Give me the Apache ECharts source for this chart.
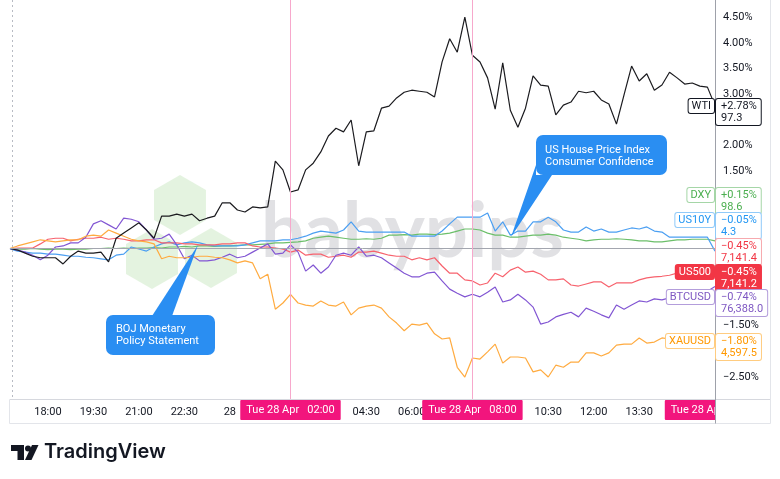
<!DOCTYPE html>
<html>
<head>
<meta charset="utf-8">
<script src="https://cdn.jsdelivr.net/npm/echarts@6/dist/echarts.min.js"></script>
<style>
  html, body { margin: 0; padding: 0; background: #fff; }
  #chart { width: 780px; height: 479px; }
</style>
</head>
<body>
<div id="chart"></div>
<script>
// 15-minute bars, Mon 27 Apr 16:45 -> Tue 28 Apr 16:00
const times = [
  '16:45','17:00','17:15','17:30','17:45','18:00','18:15','18:30','18:45','19:00',
  '19:15','19:30','19:45','20:00','20:15','20:30','20:45','21:00','21:15','21:30',
  '21:45','22:00','22:15','22:30','22:45','23:00','23:15','23:30','23:45','00:00',
  '00:15','00:30','00:45','01:00','01:15','01:30','01:45','02:00','02:15','02:30',
  '02:45','03:00','03:15','03:30','03:45','04:00','04:15','04:30','04:45','05:00',
  '05:15','05:30','05:45','06:00','06:15','06:30','06:45','07:00','07:15','07:30',
  '07:45','08:00','08:15','08:30','08:45','09:00','09:15','09:30','09:45','10:00',
  '10:15','10:30','10:45','11:00','11:15','11:30','11:45','12:00','12:15','12:30',
  '12:45','13:00','13:15','13:30','13:45','14:00','14:15','14:30','14:45','15:00',
  '15:15','15:30','15:45','16:00'
];
const xTickLabels = ['18:00','19:30','21:00','22:30','00:00','04:30','06:00','10:30','12:00','13:30'];
const eventTimes = ['02:00','08:00','16:00'];
const eventLabels = ['Tue 28 Apr   02:00','Tue 28 Apr   08:00','Tue 28 Apr   16:00'];
const yTickValues = [4.5, 4, 3.5, 3, 2, 1.5, -1.5, -2.5];

// % change since start
const wti = [
  0,-0.03,-0.09,-0.15,-0.18,-0.18,-0.18,-0.30,-0.15,-0.05,
  -0.09,-0.09,-0.07,-0.26,0.20,0.30,0.40,0.50,0.36,0.20,
  0.63,0.63,0.67,0.63,0.67,0.54,0.59,0.63,0.89,0.89,
  0.75,0.71,0.81,0.79,0.81,1.70,1.53,1.10,1.14,1.53,
  1.66,1.88,2.19,2.34,2.27,2.50,1.61,2.27,2.29,2.73,
  2.77,2.93,3.04,3.08,3.06,3.04,2.95,3.63,4.08,3.82,
  4.50,3.76,3.63,3.32,2.71,3.61,2.69,2.36,2.73,3.36,
  3.18,3.16,2.60,2.79,2.85,3.06,3.03,3.06,2.89,2.81,
  2.42,2.99,3.55,3.26,3.40,3.08,3.18,3.43,3.32,3.20,
  3.22,3.16,3.14,2.78
];
const dxy = [
  0,-0.01,-0.01,0,-0.01,-0.02,-0.01,-0.01,-0.02,-0.01,
  -0.01,0,0,0.01,0,0.01,0,0.01,0.01,0.02,
  0.01,0.03,0.03,0.04,0.03,0.05,0.05,0.04,0.05,0.05,
  0.06,0.07,0.07,0.08,0.09,0.11,0.11,0.12,0.13,0.15,
  0.20,0.22,0.24,0.22,0.20,0.18,0.18,0.19,0.18,0.20,
  0.26,0.26,0.27,0.26,0.28,0.28,0.27,0.28,0.30,0.34,
  0.38,0.38,0.36,0.30,0.26,0.26,0.22,0.22,0.24,0.26,
  0.26,0.28,0.26,0.22,0.20,0.18,0.15,0.17,0.18,0.18,
  0.19,0.18,0.17,0.15,0.15,0.13,0.13,0.15,0.17,0.17,
  0.18,0.18,0.18,0.15
];
const us10y = [
  -0.01,-0.05,-0.07,-0.09,-0.09,-0.11,-0.11,-0.13,-0.15,-0.15,
  -0.17,-0.18,-0.20,-0.22,-0.13,-0.11,0.03,-0.01,-0.05,0.03,
  0.09,0.13,0.07,0.11,0.13,0.11,0.07,0.05,0.05,0.05,
  0.05,0.07,0.11,0.15,0.15,0.15,0.17,0.17,0.20,0.24,
  0.30,0.34,0.32,0.30,0.36,0.52,0.34,0.32,0.32,0.32,
  0.32,0.32,0.32,0.24,0.24,0.24,0.24,0.34,0.48,0.61,
  0.61,0.61,0.61,0.69,0.34,0.52,0.26,0.34,0.34,0.52,
  0.52,0.61,0.52,0.36,0.32,0.32,0.42,0.34,0.38,0.32,
  0.32,0.36,0.40,0.38,0.42,0.34,0.32,0.22,0.22,0.22,
  0.22,0.22,0.22,-0.05
];
const us500 = [
  0,0.01,0.01,0.01,0.09,0.18,0.20,0.20,0.15,0.18,
  0.20,0.20,0.22,0.18,0.20,0.18,0.15,0.15,0.17,0.17,
  0.11,0.11,0.11,0.09,0.09,0.07,0.07,0.07,0.09,0.09,
  0.11,0.11,0.05,0.03,0.03,0.01,-0.01,-0.07,-0.03,-0.13,
  -0.11,-0.11,-0.17,-0.15,-0.13,-0.17,-0.07,-0.07,-0.05,-0.09,
  -0.13,-0.15,-0.15,-0.22,-0.18,-0.22,-0.18,-0.34,-0.48,-0.48,
  -0.61,-0.63,-0.71,-0.67,-0.48,-0.55,-0.42,-0.36,-0.46,-0.44,
  -0.50,-0.61,-0.61,-0.59,-0.71,-0.73,-0.69,-0.65,-0.65,-0.75,
  -0.67,-0.67,-0.67,-0.61,-0.57,-0.55,-0.54,-0.52,-0.48,-0.48,
  -0.48,-0.46,-0.46,-0.45
];
const btcusd = [
  0,-0.03,-0.07,-0.13,-0.22,-0.13,0.03,0.05,0.11,0.11,
  0.22,0.48,0.54,0.46,0.38,0.59,0.57,0.52,0.36,0.18,
  0.20,0.28,0.07,-0.20,-0.13,-0.24,-0.24,-0.22,-0.17,-0.11,
  -0.18,-0.15,-0.07,0.01,0.09,-0.11,-0.09,0.07,-0.07,-0.44,
  -0.32,-0.48,-0.36,-0.13,-0.09,-0.13,0.03,-0.15,-0.13,-0.18,
  -0.28,-0.38,-0.48,-0.55,-0.55,-0.48,-0.46,-0.63,-0.79,-0.87,
  -0.94,-0.89,-0.94,-0.85,-0.75,-1.04,-1.00,-0.89,-1.00,-1.14,
  -1.47,-1.43,-1.33,-1.28,-1.24,-1.33,-1.16,-1.22,-1.29,-1.35,
  -1.10,-1.18,-1.10,-1.02,-1.04,-0.98,-1.00,-0.96,-0.98,-1.06,
  -0.96,-0.90,-0.83,-0.74
];
const xauusd = [
  0,0.05,0.09,0.13,0.17,0.15,0.13,0.15,0.17,0.17,
  0.24,0.26,0.24,0.36,0.30,0.24,0.18,0.15,0.13,0.09,
  -0.20,-0.15,-0.18,-0.18,-0.17,-0.15,-0.15,-0.17,-0.18,-0.22,
  -0.28,-0.24,-0.28,-0.59,-0.50,-1.18,-1.06,-0.89,-1.06,-1.10,
  -1.12,-1.02,-1.10,-1.12,-1.04,-1.29,-1.16,-1.12,-1.10,-1.16,
  -1.33,-1.45,-1.60,-1.47,-1.49,-1.45,-1.66,-1.76,-1.74,-2.31,
  -2.50,-2.13,-2.15,-2.01,-1.86,-2.23,-2.11,-2.11,-2.13,-2.40,
  -2.36,-2.50,-2.27,-2.31,-2.21,-2.21,-2.03,-2.03,-2.09,-2.03,
  -1.88,-1.86,-1.86,-1.74,-1.84,-1.82,-1.74,-1.76,-1.76,-1.78,
  -1.80,-1.80,-1.80,-1.80
];

// price tags on the right scale (last values)
const tagNames  = ['WTI', 'DXY', 'US10Y', '', 'US500', 'BTCUSD', 'XAUUSD'];
const tagPct    = ['+2.78%', '+0.15%', '\u22120.05%', '\u22120.45%', '\u22120.45%', '\u22120.74%', '\u22121.80%'];
const tagPrice  = ['97.3', '98.6', '4.3', '7,141.4', '7,141.2', '76,388.0', '4,597.5'];
const tagAnchor = [2.78, null, null, null, -0.45, null, -1.80];

const FONT = 'Roboto, "Noto Sans", sans-serif';
const lineColors = {
  WTI: '#1b1b1f', DXY: '#6cbf6a', US10Y: '#4b9ff2', US500: '#f7626d',
  BTCUSD: '#8256d3', XAUUSD: '#ffab40'
};
const tagStyle = [
  { text: '#131722', border: '#131722', bg: '#fff' },
  { text: '#4caf50', border: '#a5d6a7', bg: '#fff' },
  { text: '#2196f3', border: '#90caf9', bg: '#fff' },
  { text: '#f23645', border: '#f7a9ae', bg: '#fff' },
  { text: '#fff', border: '#f23645', bg: '#f23645' },
  { text: '#7e57c2', border: '#b39ddb', bg: '#fff' },
  { text: '#ff9800', border: '#ffcc80', bg: '#fff' }
];

const chart = echarts.init(document.getElementById('chart'), null, { renderer: 'canvas' });

const fmtPct = v => (v < 0 ? '\u2212' : '') + Math.abs(v).toFixed(2) + '%';

function line(name, data, extra) {
  return Object.assign({
    name: name,
    type: 'line',
    data: data,
    showSymbol: false,
    symbol: 'none',
    animation: false,
    lineStyle: { width: 1.2, color: lineColors[name] },
    itemStyle: { color: lineColors[name] },
    z: 3
  }, extra || {});
}

const option = {
  backgroundColor: '#fff',
  animation: false,
  grid: { left: 10, right: 65, top: 0, bottom: 79 },
  xAxis: {
    type: 'category',
    data: times,
    boundaryGap: false,
    axisLine: { show: false },
    axisTick: { show: false },
    splitLine: { show: false },
    axisLabel: {
      interval: (i, v) => xTickLabels.indexOf(v) >= 0,
      formatter: v => (v === '00:00' ? '28' : v),
      color: '#131722',
      fontSize: 11,
      fontFamily: FONT,
      margin: 7
    }
  },
  yAxis: {
    type: 'value',
    position: 'right',
    min: -2.947,
    max: 4.835,
    axisLine: { show: false },
    axisTick: { show: false },
    splitLine: { show: false },
    axisLabel: {
      customValues: yTickValues,
      formatter: fmtPct,
      color: '#131722',
      fontSize: 11,
      fontFamily: FONT,
      margin: 8
    }
  },
  series: [
    line('DXY', dxy, {
      markLine: {
        silent: true, symbol: 'none', animation: false,
        label: { show: false },
        lineStyle: { color: '#a3a6af', width: 1, type: 'solid' },
        data: [{ yAxis: 0 }]
      }
    }),
    line('US10Y', us10y),
    line('US500', us500),
    line('BTCUSD', btcusd),
    line('XAUUSD', xauusd),
    line('WTI', wti, {
      markLine: {
        silent: true, symbol: 'none', animation: false,
        lineStyle: { color: '#f7a8cc', width: 1, type: 'solid' },
        label: {
          position: 'start',
          distance: 0,
          color: '#fff',
          fontSize: 11,
          fontFamily: FONT,
          backgroundColor: '#f2157d',
          padding: [5, 6, 4, 6],
          borderRadius: 1
        },
        data: eventTimes.map((t, k) => ({
          xAxis: t,
          label: { formatter: eventLabels[k] }
        }))
      }
    })
  ]
};
chart.setOption(option);

// ---- decorations, tags and callouts ----
function hex(cx, cy, r) {
  const pts = [];
  for (let k = 0; k < 6; k++) {
    const a = Math.PI / 180 * (60 * k - 90);
    pts.push([cx + r * Math.cos(a), cy + r * Math.sin(a)]);
  }
  return pts;
}

const yPix = v => chart.convertToPixel({ yAxisIndex: 0 }, v);
const wtiTop = yPix(tagAnchor[0]) - 7;
const spxTop = yPix(tagAnchor[4]) - 7;
const xauTop = yPix(tagAnchor[6]) - 7;
const tagTops = [wtiTop, spxTop - 77, spxTop - 52, spxTop - 26, spxTop, spxTop + 25, xauTop];

const graphics = [
  // watermark
  { type: 'polygon', z: 0, silent: true, shape: { points: hex(180, 205, 30) }, style: { fill: 'rgba(130,200,115,0.22)' } },
  { type: 'polygon', z: 0, silent: true, shape: { points: hex(152, 259, 30) }, style: { fill: 'rgba(130,200,115,0.22)' } },
  { type: 'polygon', z: 0, silent: true, shape: { points: hex(211, 258, 30) }, style: { fill: 'rgba(130,200,115,0.22)' } },
  { type: 'text', z: 0, silent: true, x: 261, y: 232,
    style: { text: 'babypips', font: 'bold 76px Lato, "DejaVu Sans", sans-serif', fill: '#e1e1e4', verticalAlign: 'middle' } },

  // frame
  { type: 'line', z: 50, silent: true, shape: { x1: 12.5, y1: 0, x2: 12.5, y2: 399 }, style: { stroke: '#b8bbc3', lineDash: [2, 3] } },
  { type: 'line', z: 50, silent: true, shape: { x1: 9.5, y1: 399.5, x2: 770.5, y2: 399.5 }, style: { stroke: '#d6d8de' } },
  { type: 'line', z: 50, silent: true, shape: { x1: 9.5, y1: 423.5, x2: 770.5, y2: 423.5 }, style: { stroke: '#e3e5ea' } },
  { type: 'line', z: 50, silent: true, shape: { x1: 9.5, y1: 400, x2: 9.5, y2: 423.5 }, style: { stroke: '#e3e5ea' } },
  { type: 'line', z: 50, silent: true, shape: { x1: 770.5, y1: 0, x2: 770.5, y2: 423.5 }, style: { stroke: '#e3e5ea' } },
  // hide the part of the last time tag that runs under the price scale
  { type: 'rect', z: 60, silent: true, shape: { x: 716, y: 400, width: 54, height: 23 }, style: { fill: '#fff' } },
  { type: 'line', z: 61, silent: true, shape: { x1: 715.5, y1: 0, x2: 715.5, y2: 423.5 }, style: { stroke: '#9ea1aa' } },

  // callouts
  { type: 'polygon', z: 70, silent: true, shape: { points: [[152, 316], [198, 245], [172, 316]] }, style: { fill: '#2a8ef2' } },
  { type: 'rect', z: 70, silent: true, shape: { x: 106, y: 315, width: 109, height: 40, r: 7 }, style: { fill: '#2a8ef2' } },
  { type: 'text', z: 71, silent: true, x: 116, y: 323,
    style: { text: 'BOJ Monetary\nPolicy Statement', font: '11px ' + FONT, fill: '#fff', lineHeight: 12, verticalAlign: 'top' } },
  { type: 'polygon', z: 70, silent: true, shape: { points: [[536, 165], [511, 237], [552, 175], [536, 175]] }, style: { fill: '#2a8ef2' } },
  { type: 'rect', z: 70, silent: true, shape: { x: 536, y: 135, width: 131, height: 40, r: 7 }, style: { fill: '#2a8ef2' } },
  { type: 'text', z: 71, silent: true, x: 545, y: 144,
    style: { text: 'US House Price Index\nConsumer Confidence', font: '11px ' + FONT, fill: '#fff', lineHeight: 12, verticalAlign: 'top' } },

  // TradingView logo
  { type: 'rect', z: 70, silent: true, shape: { x: 11, y: 445, width: 13, height: 6 }, style: { fill: '#131722' } },
  { type: 'rect', z: 70, silent: true, shape: { x: 17.5, y: 445, width: 6.5, height: 15 }, style: { fill: '#131722' } },
  { type: 'circle', z: 70, silent: true, shape: { cx: 28, cy: 448.5, r: 3 }, style: { fill: '#131722' } },
  { type: 'polygon', z: 70, silent: true, shape: { points: [[32, 445], [38.5, 445], [31.5, 460], [25, 460]] }, style: { fill: '#131722' } },
  { type: 'text', z: 70, silent: true, x: 44, y: 452,
    style: { text: 'TradingView', font: '600 20px Inter, Roboto, sans-serif', fill: '#131722', verticalAlign: 'middle' } }
];

tagNames.forEach((nm, k) => {
  const st = tagStyle[k];
  const top = Math.round(tagTops[k]);
  if (nm) {
    graphics.push({
      type: 'text', z: 80, silent: true, x: 714, y: top,
      style: {
        text: nm, font: '11px ' + FONT, fill: st.text, align: 'right', verticalAlign: 'top',
        backgroundColor: st.bg, borderColor: st.border, borderWidth: 1, borderRadius: 2,
        padding: [1, 3, 1, 3], lineHeight: 12
      }
    });
  }
  graphics.push({
    type: 'text', z: 80, silent: true, x: 716, y: top,
    style: {
      text: tagPct[k] + '\n' + tagPrice[k], font: '11px ' + FONT, fill: st.text, align: 'left', verticalAlign: 'top',
      backgroundColor: st.bg, borderColor: st.border, borderWidth: 1, borderRadius: 2,
      padding: [1, 4, 1, 5], lineHeight: 12
    }
  });
});

chart.setOption({ graphic: { elements: graphics } });
</script>
</body>
</html>
